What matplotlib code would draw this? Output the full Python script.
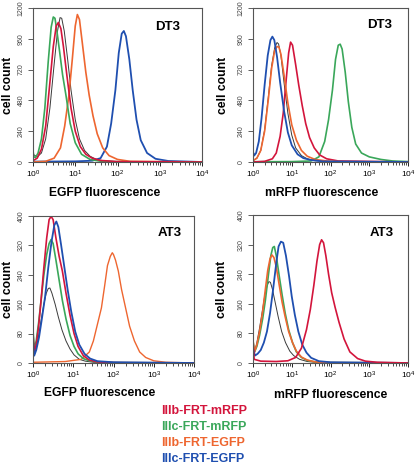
import matplotlib
matplotlib.use("Agg")
import matplotlib.pyplot as plt
import numpy as np

plt.rcParams['font.family'] = ['Liberation Sans', 'DejaVu Sans']
plt.rcParams['mathtext.fontset'] = 'custom'
plt.rcParams['mathtext.rm'] = 'Liberation Sans'
plt.rcParams['mathtext.it'] = 'Liberation Sans:italic'
plt.rcParams['mathtext.bf'] = 'Liberation Sans:bold'

RED = '#d3153c'
GREEN = '#3aa75a'
ORANGE = '#ee6630'
BLUE = '#1f4fb0'
BLACK = '#3a3a3a'

# DT3, EGFP fluorescence (log10 of fluorescence, cell count)
dt3_egfp_green_lx = [0, 0.02, 0.06, 0.12, 0.2, 0.28, 0.36, 0.43, 0.48, 0.52, 0.57, 0.63, 0.7, 0.78, 0.88, 1.0, 1.15, 1.35, 1.6, 2.0, 4.0]
dt3_egfp_green_y = [90, 40, 35, 70, 180, 420, 780, 1050, 1130, 1120, 1010, 860, 680, 520, 300, 150, 60, 20, 6, 2, 0]
dt3_egfp_red_lx = [0, 0.1, 0.2, 0.3, 0.4, 0.48, 0.55, 0.6, 0.66, 0.72, 0.8, 0.9, 1.0, 1.12, 1.25, 1.4, 1.6, 2.0, 4.0]
dt3_egfp_red_y = [10, 30, 100, 280, 620, 900, 1060, 1087, 1040, 900, 680, 420, 240, 120, 60, 30, 12, 3, 0]
dt3_egfp_black_lx = [0, 0.1, 0.2, 0.3, 0.4, 0.5, 0.58, 0.64, 0.68, 0.74, 0.82, 0.9, 1.0, 1.1, 1.22, 1.35, 1.5, 1.7, 2.0, 4.0]
dt3_egfp_black_y = [60, 40, 70, 180, 420, 760, 1020, 1125, 1120, 1020, 800, 560, 330, 180, 90, 45, 20, 8, 3, 0]
dt3_egfp_orange_lx = [0, 0.3, 0.5, 0.65, 0.75, 0.85, 0.93, 1.0, 1.05, 1.1, 1.17, 1.25, 1.33, 1.42, 1.52, 1.65, 1.8, 2.0, 2.3, 4.0]
dt3_egfp_orange_y = [0, 5, 30, 110, 280, 520, 800, 1060, 1149, 1110, 920, 700, 520, 360, 220, 110, 50, 20, 5, 0]
dt3_egfp_blue_lx = [0, 1.0, 1.4, 1.6, 1.75, 1.85, 1.95, 2.03, 2.1, 2.15, 2.2, 2.28, 2.36, 2.45, 2.55, 2.7, 2.9, 3.2, 4.0]
dt3_egfp_blue_y = [3, 5, 10, 30, 120, 300, 560, 850, 1000, 1021, 980, 800, 560, 330, 170, 70, 25, 8, 0]

# DT3, mRFP fluorescence
dt3_mrfp_blue_lx = [0, 0.03, 0.08, 0.15, 0.22, 0.3, 0.38, 0.45, 0.5, 0.55, 0.62, 0.7, 0.8, 0.9, 1.0, 1.15, 1.3, 1.5, 1.8, 4.0]
dt3_mrfp_blue_y = [80, 50, 70, 160, 340, 600, 830, 950, 977, 950, 820, 620, 400, 230, 130, 60, 30, 15, 5, 0]
dt3_mrfp_black_lx = [0, 0.1, 0.2, 0.3, 0.4, 0.48, 0.56, 0.62, 0.66, 0.72, 0.8, 0.9, 1.0, 1.1, 1.25, 1.4, 1.6, 2.0, 4.0]
dt3_mrfp_black_y = [10, 30, 90, 250, 520, 750, 890, 931, 920, 830, 620, 380, 210, 110, 50, 25, 10, 3, 0]
dt3_mrfp_orange_lx = [0, 0.1, 0.2, 0.3, 0.4, 0.48, 0.56, 0.62, 0.67, 0.72, 0.8, 0.9, 1.0, 1.12, 1.25, 1.4, 1.6, 1.9, 2.3, 4.0]
dt3_mrfp_orange_y = [10, 30, 90, 240, 500, 730, 870, 900, 895, 840, 680, 460, 290, 170, 90, 45, 20, 8, 2, 0]
dt3_mrfp_red_lx = [0, 0.3, 0.5, 0.6, 0.7, 0.78, 0.85, 0.92, 0.97, 1.02, 1.1, 1.18, 1.27, 1.36, 1.46, 1.58, 1.72, 1.9, 2.2, 4.0]
dt3_mrfp_red_y = [0, 5, 25, 70, 200, 380, 620, 850, 934, 910, 760, 600, 440, 300, 190, 110, 55, 25, 8, 0]
dt3_mrfp_green_lx = [0, 1.0, 1.5, 1.7, 1.85, 1.95, 2.05, 2.13, 2.2, 2.25, 2.3, 2.38, 2.46, 2.55, 2.65, 2.8, 3.0, 3.3, 3.6, 4.0]
dt3_mrfp_green_y = [2, 3, 8, 40, 160, 330, 560, 800, 910, 918, 880, 700, 470, 270, 140, 70, 40, 20, 8, 3]

# AT3, EGFP fluorescence
at3_egfp_red_lx = [0, 0.03, 0.08, 0.14, 0.2, 0.27, 0.34, 0.4, 0.45, 0.5, 0.57, 0.65, 0.73, 0.82, 0.92, 1.02, 1.12, 1.25, 1.4, 1.6, 2.0, 4.0]
at3_egfp_red_y = [80, 30, 50, 100, 170, 260, 340, 390, 399, 390, 340, 290, 250, 190, 130, 80, 45, 20, 8, 3, 1, 0]
at3_egfp_blue_lx = [0, 0.03, 0.08, 0.15, 0.22, 0.3, 0.38, 0.46, 0.53, 0.58, 0.63, 0.7, 0.78, 0.86, 0.95, 1.05, 1.15, 1.28, 1.42, 1.6, 2.0, 4.0]
at3_egfp_blue_y = [60, 20, 35, 70, 120, 180, 260, 330, 375, 385, 370, 320, 260, 200, 140, 85, 50, 25, 12, 5, 2, 0]
at3_egfp_green_lx = [0, 0.03, 0.08, 0.14, 0.2, 0.27, 0.34, 0.4, 0.45, 0.5, 0.57, 0.65, 0.73, 0.82, 0.92, 1.02, 1.12, 1.25, 1.4, 1.6, 2.0, 4.0]
at3_egfp_green_y = [90, 40, 60, 110, 170, 240, 295, 325, 336, 325, 280, 225, 170, 120, 75, 45, 25, 12, 6, 3, 1, 0]
at3_egfp_black_lx = [0, 0.03, 0.08, 0.14, 0.2, 0.27, 0.33, 0.38, 0.42, 0.47, 0.55, 0.63, 0.72, 0.82, 0.92, 1.02, 1.15, 1.3, 1.5, 4.0]
at3_egfp_black_y = [40, 20, 40, 75, 115, 160, 190, 203, 204, 190, 160, 125, 90, 60, 38, 22, 10, 5, 2, 0]
at3_egfp_orange_lx = [0, 0.8, 1.2, 1.4, 1.5, 1.6, 1.7, 1.78, 1.85, 1.92, 1.97, 2.0, 2.05, 2.12, 2.2, 2.3, 2.4, 2.52, 2.65, 2.8, 3.0, 3.3, 4.0]
at3_egfp_orange_y = [2, 4, 10, 30, 60, 105, 150, 210, 265, 290, 300, 295, 280, 250, 200, 150, 100, 60, 30, 15, 6, 2, 0]

# AT3, mRFP fluorescence
at3_mrfp_black_lx = [0, 0.04, 0.1, 0.17, 0.24, 0.3, 0.36, 0.41, 0.45, 0.5, 0.57, 0.65, 0.74, 0.84, 0.95, 1.05, 1.2, 1.4, 1.7, 4.0]
at3_mrfp_black_y = [50, 30, 55, 95, 140, 180, 208, 220, 218, 200, 165, 125, 85, 55, 32, 20, 10, 4, 1, 0]
at3_mrfp_green_lx = [0, 0.04, 0.1, 0.17, 0.25, 0.32, 0.4, 0.46, 0.51, 0.55, 0.6, 0.67, 0.75, 0.83, 0.92, 1.02, 1.12, 1.25, 1.4, 1.6, 2.0, 4.0]
at3_mrfp_green_y = [60, 30, 45, 75, 120, 170, 240, 290, 312, 315, 290, 240, 185, 135, 90, 55, 30, 15, 7, 3, 1, 0]
at3_mrfp_orange_lx = [0, 0.04, 0.1, 0.17, 0.25, 0.32, 0.38, 0.44, 0.49, 0.54, 0.6, 0.67, 0.75, 0.83, 0.92, 1.02, 1.12, 1.25, 1.4, 1.6, 2.0, 4.0]
at3_mrfp_orange_y = [60, 30, 50, 85, 140, 200, 250, 282, 292, 285, 260, 215, 165, 125, 85, 55, 32, 16, 8, 3, 1, 0]
at3_mrfp_blue_lx = [0, 0.05, 0.12, 0.2, 0.28, 0.36, 0.44, 0.52, 0.6, 0.66, 0.72, 0.78, 0.85, 0.93, 1.0, 1.08, 1.17, 1.27, 1.38, 1.5, 1.7, 2.0, 4.0]
at3_mrfp_blue_y = [40, 20, 25, 35, 55, 85, 135, 200, 270, 315, 328, 325, 290, 235, 180, 130, 85, 50, 28, 14, 5, 2, 0]
at3_mrfp_red_lx = [0, 0.03, 0.2, 0.6, 0.9, 1.1, 1.25, 1.38, 1.48, 1.57, 1.65, 1.72, 1.77, 1.82, 1.88, 1.95, 2.03, 2.12, 2.22, 2.35, 2.5, 2.7, 2.9, 3.2, 4.0]
at3_mrfp_red_y = [55, 10, 5, 4, 6, 15, 40, 90, 145, 210, 275, 320, 333, 325, 290, 240, 190, 150, 110, 65, 30, 12, 5, 2, 0]

legend_labels = ['IIIb-FRT-mRFP', 'IIIc-FRT-mRFP', 'IIIb-FRT-EGFP', 'IIIc-FRT-EGFP']
legend_colors = [RED, GREEN, ORANGE, BLUE]

dt3_yticks = [0, 240, 480, 720, 960, 1200]
at3_yticks = [0, 80, 160, 240, 320, 400]


def draw_panel(ax, curves, yticks, xlabel, title, title_pos, xlab_pos, ylab_x):
    for lx, y, col, lw in curves:
        ax.plot(10 ** np.array(lx), y, color=col, lw=lw)
    ax.set_xscale('log')
    ax.set_xlim(1, 1e4)
    ax.set_ylim(0, yticks[-1])
    ax.set_yticks(yticks)
    ax.set_yticklabels([str(t) for t in yticks], rotation=90, va='center')
    ax.tick_params(axis='y', labelsize=5.0, length=3.5, width=0.6, pad=2.5, colors='#444444')
    ax.tick_params(axis='x', which='major', labelsize=6.0, length=3, width=0.6, pad=2)
    ax.tick_params(axis='x', which='minor', length=2, width=0.5)
    ax.set_xticks([1, 10, 100, 1000, 10000])
    for s in ax.spines.values():
        s.set_linewidth(0.8)
        s.set_color('#555555')
    ax.set_xlabel(xlabel, fontsize=8.7, fontweight='bold', va='center')
    ax.xaxis.set_label_coords(xlab_pos[0], xlab_pos[1])
    ax.set_ylabel('cell count', fontsize=8.7, fontweight='bold', va='center')
    ax.yaxis.set_label_coords(ylab_x, 0.5)
    ax.text(title_pos[0], title_pos[1], title, transform=ax.transAxes, ha='right', va='center',
            fontsize=9.5, fontweight='bold')


fig = plt.figure(figsize=(4.15, 4.67), dpi=100)
W, H = 415.0, 467.0

ax1 = fig.add_axes([33 / W, (H - 162) / H, 169 / W, 154 / H])
ax2 = fig.add_axes([253 / W, (H - 162) / H, 155 / W, 154 / H])
ax3 = fig.add_axes([33 / W, (H - 363) / H, 161 / W, 147 / H])
ax4 = fig.add_axes([253 / W, (H - 363) / H, 155 / W, 148 / H])

draw_panel(ax1, [
    (dt3_egfp_black_lx, dt3_egfp_black_y, BLACK, 0.7),
    (dt3_egfp_blue_lx, dt3_egfp_blue_y, BLUE, 1.3),
    (dt3_egfp_orange_lx, dt3_egfp_orange_y, ORANGE, 1.2),
    (dt3_egfp_green_lx, dt3_egfp_green_y, GREEN, 1.2),
    (dt3_egfp_red_lx, dt3_egfp_red_y, RED, 1.2),
], dt3_yticks, 'EGFP fluorescence', 'DT3', (0.87, 0.878), (0.426, -0.2), -0.148)

draw_panel(ax2, [
    (dt3_mrfp_black_lx, dt3_mrfp_black_y, BLACK, 0.7),
    (dt3_mrfp_green_lx, dt3_mrfp_green_y, GREEN, 1.2),
    (dt3_mrfp_red_lx, dt3_mrfp_red_y, RED, 1.2),
    (dt3_mrfp_orange_lx, dt3_mrfp_orange_y, ORANGE, 1.2),
    (dt3_mrfp_blue_lx, dt3_mrfp_blue_y, BLUE, 1.3),
], dt3_yticks, 'mRFP fluorescence', 'DT3', (0.9, 0.89), (0.44, -0.2), -0.194)

draw_panel(ax3, [
    (at3_egfp_black_lx, at3_egfp_black_y, BLACK, 0.7),
    (at3_egfp_orange_lx, at3_egfp_orange_y, ORANGE, 1.0),
    (at3_egfp_green_lx, at3_egfp_green_y, GREEN, 1.2),
    (at3_egfp_red_lx, at3_egfp_red_y, RED, 1.2),
    (at3_egfp_blue_lx, at3_egfp_blue_y, BLUE, 1.3),
], at3_yticks, 'EGFP fluorescence', 'AT3', (0.925, 0.884), (0.416, -0.204), -0.155)

draw_panel(ax4, [
    (at3_mrfp_black_lx, at3_mrfp_black_y, BLACK, 0.7),
    (at3_mrfp_green_lx, at3_mrfp_green_y, GREEN, 1.2),
    (at3_mrfp_orange_lx, at3_mrfp_orange_y, ORANGE, 1.2),
    (at3_mrfp_blue_lx, at3_mrfp_blue_y, BLUE, 1.3),
    (at3_mrfp_red_lx, at3_mrfp_red_y, RED, 1.2),
], at3_yticks, 'mRFP fluorescence', 'AT3', (0.91, 0.878), (0.5, -0.216), -0.2)

# coloured legend text under the panels
for i, (lab, col) in enumerate(zip(legend_labels, legend_colors)):
    fig.text(161 / W, (H - 411 - i * 16.1) / H, lab, color=col, fontsize=9,
             fontweight='bold', ha='left', va='center')

fig.savefig('out.png', dpi=100)
